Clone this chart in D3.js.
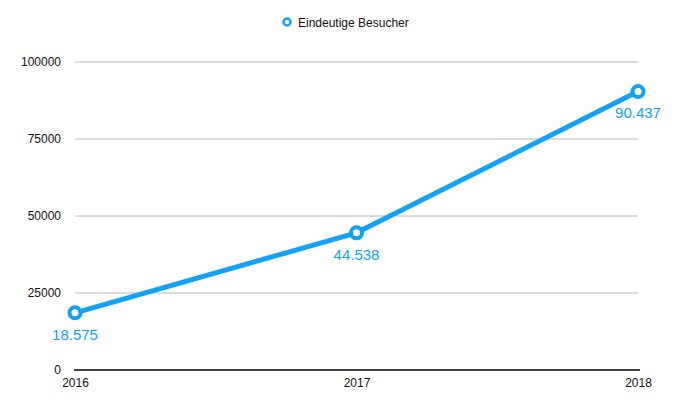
<!DOCTYPE html>
<html>
<head>
<meta charset="utf-8">
<script src="https://cdn.jsdelivr.net/npm/d3@7"></script>
<style>
  body { margin: 0; background: #fff; }
  text { font-family: "Helvetica Neue", Helvetica, "Liberation Sans", Arial, sans-serif; }
</style>
</head>
<body>
<div id="chart"></div>
<script>
const years = ["2016", "2017", "2018"];
const visitors = [18575, 44538, 90437];
const yTicks = [0, 25000, 50000, 75000, 100000];
const seriesName = "Eindeutige Besucher";

const width = 677;
const height = 416;
const margin = { top: 62, right: 38, bottom: 46, left: 75 };
const blue = "#12a1f7";

const svg = d3.select("#chart").append("svg")
  .attr("width", width)
  .attr("height", height);

const x = d3.scalePoint()
  .domain(years)
  .range([margin.left, width - 39]);

const y = d3.scaleLinear()
  .domain([0, 100000])
  .range([height - margin.bottom, margin.top]);

// gridlines
svg.append("g")
  .selectAll("line")
  .data(yTicks.filter(d => d > 0))
  .join("line")
  .attr("x1", margin.left)
  .attr("x2", width - 39)
  .attr("y1", d => y(d))
  .attr("y2", d => y(d))
  .attr("stroke", "#b8b8b8")
  .attr("stroke-width", 1);

// y axis labels
const yAxis = svg.append("g")
  .attr("transform", `translate(${margin.left - 14},0)`)
  .call(d3.axisLeft(y).tickValues(yTicks).tickSize(0).tickPadding(0).tickFormat(d3.format("d")));
yAxis.select(".domain").remove();
yAxis.selectAll("text").style("font-size", "12px").attr("fill", "#111");

// x axis
const xAxis = svg.append("g")
  .attr("transform", `translate(0,${y(0)})`)
  .call(d3.axisBottom(x).tickSize(0).tickPadding(8));
xAxis.select(".domain")
  .attr("d", `M${margin.left - 1},0H${width - 37}`)
  .attr("stroke", "#000")
  .attr("stroke-width", 1.3);
xAxis.selectAll("text").style("font-size", "12px").attr("fill", "#111");

const points = years.map((yr, i) => ({ year: yr, value: visitors[i] }));

const line = d3.line()
  .x(d => x(d.year))
  .y(d => y(d.value));

svg.append("path")
  .datum(points)
  .attr("fill", "none")
  .attr("stroke", blue)
  .attr("stroke-width", 5)
  .attr("stroke-linejoin", "round")
  .attr("d", line);

svg.selectAll("circle.pt")
  .data(points)
  .join("circle")
  .attr("class", "pt")
  .attr("cx", d => x(d.year))
  .attr("cy", d => y(d.value))
  .attr("r", 5.5)
  .attr("fill", "#fff")
  .attr("stroke", blue)
  .attr("stroke-width", 4);

svg.selectAll("text.val")
  .data(points)
  .join("text")
  .attr("class", "val")
  .attr("x", d => x(d.year))
  .attr("y", d => y(d.value) + 27)
  .attr("text-anchor", "middle")
  .attr("fill", blue)
  .style("font-size", "15px")
  .text(d => d3.format(",")(d.value).replace(/,/g, "."));

// legend
const legend = svg.append("g").attr("transform", "translate(287,22)");
legend.append("circle")
  .attr("r", 3.5)
  .attr("fill", "#fff")
  .attr("stroke", blue)
  .attr("stroke-width", 2.5);
legend.append("text")
  .attr("x", 11)
  .attr("y", 4.5)
  .style("font-size", "12px")
  .attr("fill", "#111")
  .text(seriesName);
</script>
</body>
</html>
